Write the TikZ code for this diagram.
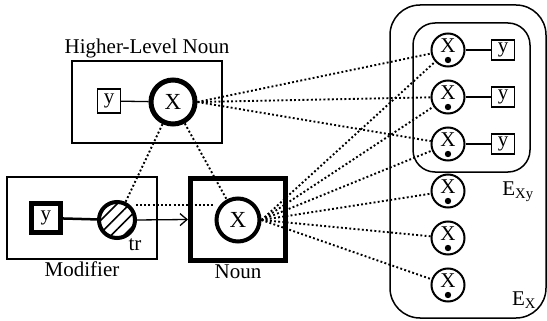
\documentclass[tikz,border=0pt]{standalone}
\usepackage{fontspec}
\setmainfont{Liberation Serif}
\usetikzlibrary{arrows.meta,patterns.meta}

\tikzset{
  link/.style={line width=1.9pt, dash pattern=on 1.9pt off 2.3pt},
  slot/.style={draw, line width=1.3pt, inner sep=0pt},
  unit/.style={circle, draw, inner sep=0pt},
  frame/.style={draw, line width=1.5pt, inner sep=0pt},
}

\begin{document}
\begin{tikzpicture}[x=1pt, y=-1pt, font=\fontsize{21}{24}\selectfont]
  \useasboundingbox (0,0) rectangle (547,321);
  % higher-level noun
  \node[frame, minimum width=150pt, minimum height=82pt] (hlbox) at (147,102) {};
  \node[above, inner sep=2pt] (hltext) at (hlbox.north) {Higher-Level Noun};
  \node[slot, minimum width=23pt, minimum height=24pt] (hly) at (109,101) {y};
  \node[unit, line width=5pt, minimum size=44pt, font=\fontsize{23}{24}\selectfont] (hl) at (173,102) {X};
  \draw[line width=1.3pt] (hly) -- (hl);
  % modifier
  \node[frame, minimum width=150pt, minimum height=82pt] (modbox) at (82,218) {};
  \node[below, inner sep=2pt] (modtext) at (modbox.south) {Modifier};
  \node[slot, line width=4.5pt, minimum size=29pt] (mody) at (46,218) {y};
  \node[unit, line width=4pt, minimum size=36pt,
        pattern={Lines[angle=45, distance=9pt, line width=1.6pt]}] (mod) at (117,220) {};
  \node (trtext) at (135,245) {tr};
  \draw[line width=2.5pt] (mody) -- (mod);
  % noun
  \node[frame, line width=5pt, minimum width=95pt, minimum height=82pt] (nounbox) at (238,219.5) {};
  \node[below, inner sep=2pt] (nountext) at (nounbox.south) {Noun};
  \node[unit, line width=4pt, minimum size=43pt, font=\fontsize{23}{24}\selectfont] (noun) at (238,220) {X};
  \draw[line width=1.3pt, -{Straight Barb[length=7pt, width=12pt]}] (mod.east) -- (nounbox.west);
  % entity sets
  \draw[line width=1.5pt, rounded corners=30pt] (390,5) rectangle (546,318);
  \draw[line width=1.5pt, rounded corners=22pt] (413,23) rectangle (530,172);
  \node (exylabel) at (518,192) {E\textsubscript{Xy}};
  \node (exlabel) at (524,300) {E\textsubscript{X}};
  \foreach \i/\y in {1/50, 2/97, 3/144, 4/191, 5/238, 6/285} {
    \node[unit, line width=2pt, minimum size=33pt] (e\i) at (448,\y) {};
    \node[font=\fontsize{21}{22}\selectfont] (ex\i) at ([yshift=4pt]e\i.center) {X};
    \fill ([yshift=-10pt]e\i.center) circle (3.2pt);
  }
  \foreach \i/\y in {1/50, 2/97, 3/144} {
    \node[slot, minimum width=23pt, minimum height=20pt] (ey\i) at (503,\y) {y};
    \draw[line width=1.3pt] (e\i) -- (ey\i);
  }
  % dotted links
  \foreach \i in {1,2,3} \draw[link] (hl.east) -- (e\i);
  \foreach \i in {1,...,6} \draw[link] (noun.east) -- (e\i);
  \draw[link] (hl) -- (mod);
  \draw[link] (hl) -- (noun);
  \draw[link] ([yshift=15pt]mod.east) -- ([yshift=15pt]mod.east -| noun.west);
\end{tikzpicture}
\end{document}
